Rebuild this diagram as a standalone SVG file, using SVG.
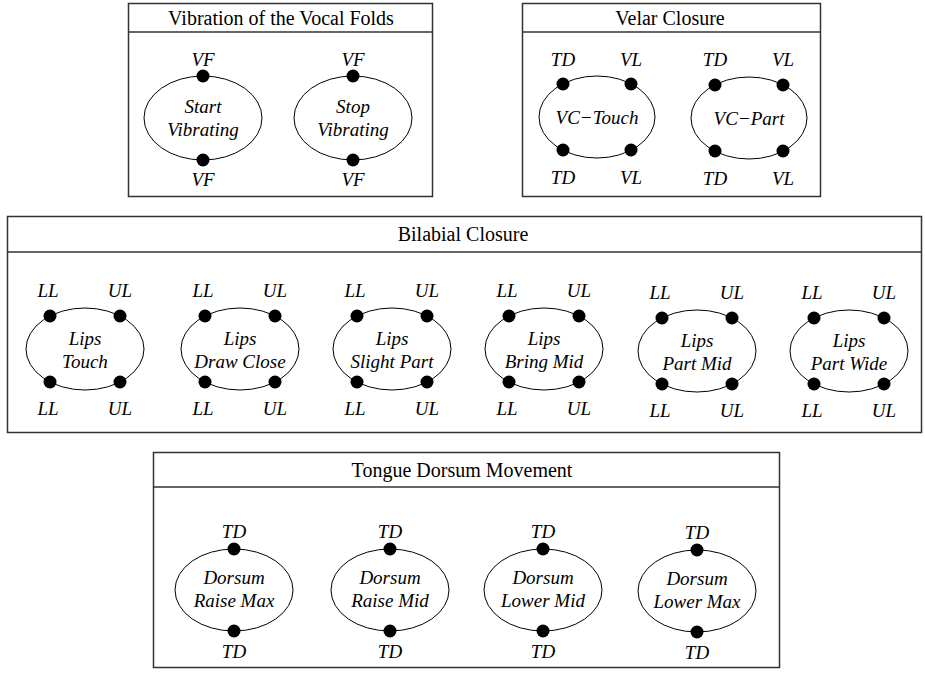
<svg xmlns="http://www.w3.org/2000/svg" width="925" height="679" viewBox="0 0 925 679" font-family="Liberation Serif, Times New Roman, DejaVu Serif, serif">
<style>
.box{fill:#fff;stroke:#333;stroke-width:1.5}
.div{stroke:#333;stroke-width:1.5}
.title{font-size:20px;text-anchor:middle;fill:#000}
.el{fill:#fff;stroke:#000;stroke-width:1}
.dot{fill:#000}
.lbl{font-style:italic;font-size:19px;text-anchor:middle;fill:#000}
</style>
<rect width="925" height="679" fill="#fff"/>

<!-- Vibration of the Vocal Folds -->
<g id="vocal-folds">
<rect class="box" x="128.5" y="3.5" width="304" height="193"/>
<line class="div" x1="128.5" y1="32" x2="432.5" y2="32"/>
<text class="title" x="281" y="25" font-family="Liberation Serif, serif">Vibration of the Vocal Folds</text>
</g>
<g id="start-vibrating">
<ellipse class="el" cx="203" cy="118" rx="59" ry="42"/>
<circle class="dot" cx="203" cy="76" r="6.5"/><circle class="dot" cx="203" cy="160" r="6.5"/>
<text class="lbl" x="203" y="66">VF</text><text class="lbl" x="203" y="186">VF</text>
<text class="lbl" x="203" y="113">Start</text><text class="lbl" x="203" y="136">Vibrating</text>
</g>
<g id="stop-vibrating">
<ellipse class="el" cx="353" cy="118" rx="59" ry="42"/>
<circle class="dot" cx="353" cy="76" r="6.5"/><circle class="dot" cx="353" cy="160" r="6.5"/>
<text class="lbl" x="353" y="66">VF</text><text class="lbl" x="353" y="186">VF</text>
<text class="lbl" x="353" y="113">Stop</text><text class="lbl" x="353" y="136">Vibrating</text>
</g>

<!-- Velar Closure -->
<g id="velar-closure">
<rect class="box" x="522.5" y="3.5" width="298" height="193"/>
<line class="div" x1="522.5" y1="32" x2="820.5" y2="32"/>
<text class="title" x="670" y="25">Velar Closure</text>
</g>
<g id="vc-touch">
<ellipse class="el" cx="597" cy="117" rx="58" ry="41"/>
<circle class="dot" cx="563" cy="84" r="6.5"/><circle class="dot" cx="631" cy="84" r="6.5"/>
<circle class="dot" cx="563" cy="150" r="6.5"/><circle class="dot" cx="631" cy="150" r="6.5"/>
<text class="lbl" x="563" y="66">TD</text><text class="lbl" x="631" y="66">VL</text>
<text class="lbl" x="563" y="184">TD</text><text class="lbl" x="631" y="184">VL</text>
<text class="lbl" x="597" y="124">VC−Touch</text>
</g>
<g id="vc-part">
<ellipse class="el" cx="749" cy="118" rx="58" ry="41"/>
<circle class="dot" cx="715" cy="85" r="6.5"/><circle class="dot" cx="783" cy="85" r="6.5"/>
<circle class="dot" cx="715" cy="151" r="6.5"/><circle class="dot" cx="783" cy="151" r="6.5"/>
<text class="lbl" x="715" y="66">TD</text><text class="lbl" x="783" y="66">VL</text>
<text class="lbl" x="715" y="185">TD</text><text class="lbl" x="783" y="185">VL</text>
<text class="lbl" x="749" y="125">VC−Part</text>
</g>

<!-- Bilabial Closure -->
<g id="bilabial-closure">
<rect class="box" x="7.5" y="216.5" width="914" height="216"/>
<line class="div" x1="7.5" y1="252" x2="921.5" y2="252"/>
<text class="title" x="463" y="241">Bilabial Closure</text>
</g>
<g id="lips-touch">
<ellipse class="el" cx="85" cy="349" rx="59" ry="41"/>
<circle class="dot" cx="50" cy="316" r="6.5"/><circle class="dot" cx="120" cy="316" r="6.5"/>
<circle class="dot" cx="50" cy="382" r="6.5"/><circle class="dot" cx="120" cy="382" r="6.5"/>
<text class="lbl" x="48" y="297">LL</text><text class="lbl" x="120" y="297">UL</text>
<text class="lbl" x="48" y="415">LL</text><text class="lbl" x="120" y="415">UL</text>
<text class="lbl" x="85" y="345">Lips</text><text class="lbl" x="85" y="368">Touch</text>
</g>
<g id="lips-draw-close">
<ellipse class="el" cx="240" cy="349" rx="59" ry="41"/>
<circle class="dot" cx="205" cy="316" r="6.5"/><circle class="dot" cx="275" cy="316" r="6.5"/>
<circle class="dot" cx="205" cy="382" r="6.5"/><circle class="dot" cx="275" cy="382" r="6.5"/>
<text class="lbl" x="203" y="297">LL</text><text class="lbl" x="275" y="297">UL</text>
<text class="lbl" x="203" y="415">LL</text><text class="lbl" x="275" y="415">UL</text>
<text class="lbl" x="240" y="345">Lips</text><text class="lbl" x="240" y="368">Draw Close</text>
</g>
<g id="lips-slight-part">
<ellipse class="el" cx="392" cy="349" rx="59" ry="41"/>
<circle class="dot" cx="357" cy="316" r="6.5"/><circle class="dot" cx="427" cy="316" r="6.5"/>
<circle class="dot" cx="357" cy="382" r="6.5"/><circle class="dot" cx="427" cy="382" r="6.5"/>
<text class="lbl" x="355" y="297">LL</text><text class="lbl" x="427" y="297">UL</text>
<text class="lbl" x="355" y="415">LL</text><text class="lbl" x="427" y="415">UL</text>
<text class="lbl" x="392" y="345">Lips</text><text class="lbl" x="392" y="368">Slight Part</text>
</g>
<g id="lips-bring-mid">
<ellipse class="el" cx="544" cy="349" rx="59" ry="41"/>
<circle class="dot" cx="509" cy="316" r="6.5"/><circle class="dot" cx="579" cy="316" r="6.5"/>
<circle class="dot" cx="509" cy="382" r="6.5"/><circle class="dot" cx="579" cy="382" r="6.5"/>
<text class="lbl" x="507" y="297">LL</text><text class="lbl" x="579" y="297">UL</text>
<text class="lbl" x="507" y="415">LL</text><text class="lbl" x="579" y="415">UL</text>
<text class="lbl" x="544" y="345">Lips</text><text class="lbl" x="544" y="368">Bring Mid</text>
</g>
<g id="lips-part-mid">
<ellipse class="el" cx="697" cy="351" rx="59" ry="41"/>
<circle class="dot" cx="662" cy="318" r="6.5"/><circle class="dot" cx="732" cy="318" r="6.5"/>
<circle class="dot" cx="662" cy="384" r="6.5"/><circle class="dot" cx="732" cy="384" r="6.5"/>
<text class="lbl" x="660" y="299">LL</text><text class="lbl" x="732" y="299">UL</text>
<text class="lbl" x="660" y="417">LL</text><text class="lbl" x="732" y="417">UL</text>
<text class="lbl" x="697" y="347">Lips</text><text class="lbl" x="697" y="370">Part Mid</text>
</g>
<g id="lips-part-wide">
<ellipse class="el" cx="849" cy="351" rx="59" ry="41"/>
<circle class="dot" cx="814" cy="318" r="6.5"/><circle class="dot" cx="884" cy="318" r="6.5"/>
<circle class="dot" cx="814" cy="384" r="6.5"/><circle class="dot" cx="884" cy="384" r="6.5"/>
<text class="lbl" x="812" y="299">LL</text><text class="lbl" x="884" y="299">UL</text>
<text class="lbl" x="812" y="417">LL</text><text class="lbl" x="884" y="417">UL</text>
<text class="lbl" x="849" y="347">Lips</text><text class="lbl" x="849" y="370">Part Wide</text>
</g>

<!-- Tongue Dorsum Movement -->
<g id="tongue-dorsum">
<rect class="box" x="153.5" y="452.5" width="626" height="215"/>
<line class="div" x1="153.5" y1="487" x2="779.5" y2="487"/>
<text class="title" x="462" y="477">Tongue Dorsum Movement</text>
</g>
<g id="dorsum-raise-max">
<ellipse class="el" cx="234" cy="590" rx="59" ry="41"/>
<circle class="dot" cx="234" cy="549" r="6.5"/><circle class="dot" cx="234" cy="631" r="6.5"/>
<text class="lbl" x="234" y="538">TD</text><text class="lbl" x="234" y="658">TD</text>
<text class="lbl" x="234" y="584">Dorsum</text><text class="lbl" x="234" y="607">Raise Max</text>
</g>
<g id="dorsum-raise-mid">
<ellipse class="el" cx="390" cy="590" rx="59" ry="41"/>
<circle class="dot" cx="390" cy="549" r="6.5"/><circle class="dot" cx="390" cy="631" r="6.5"/>
<text class="lbl" x="390" y="538">TD</text><text class="lbl" x="390" y="658">TD</text>
<text class="lbl" x="390" y="584">Dorsum</text><text class="lbl" x="390" y="607">Raise Mid</text>
</g>
<g id="dorsum-lower-mid">
<ellipse class="el" cx="543" cy="590" rx="59" ry="41"/>
<circle class="dot" cx="543" cy="549" r="6.5"/><circle class="dot" cx="543" cy="631" r="6.5"/>
<text class="lbl" x="543" y="538">TD</text><text class="lbl" x="543" y="658">TD</text>
<text class="lbl" x="543" y="584">Dorsum</text><text class="lbl" x="543" y="607">Lower Mid</text>
</g>
<g id="dorsum-lower-max">
<ellipse class="el" cx="697" cy="591" rx="59" ry="41"/>
<circle class="dot" cx="697" cy="550" r="6.5"/><circle class="dot" cx="697" cy="632" r="6.5"/>
<text class="lbl" x="697" y="539">TD</text><text class="lbl" x="697" y="659">TD</text>
<text class="lbl" x="697" y="585">Dorsum</text><text class="lbl" x="697" y="608">Lower Max</text>
</g>

<g id="connectors"></g>
</svg>
